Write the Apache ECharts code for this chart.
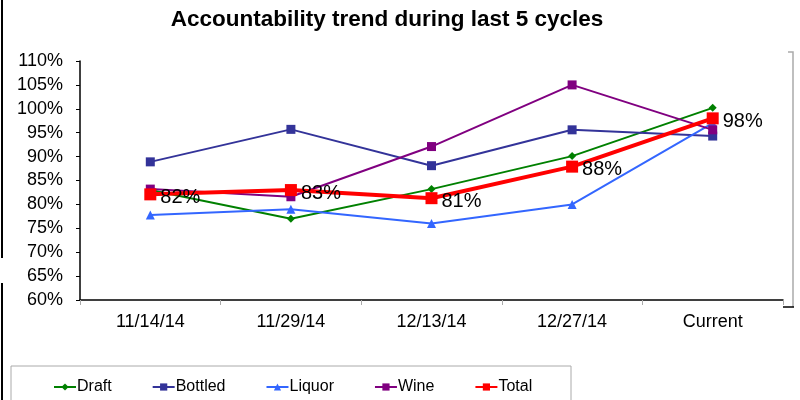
<!DOCTYPE html>
<html><head><meta charset="utf-8">
<script src="https://cdn.jsdelivr.net/npm/echarts@6/dist/echarts.min.js"></script>
<style>html,body{margin:0;padding:0;background:#fff}#c{width:800px;height:400px}</style>
</head><body><div id="c"></div>
<script>
const categories = ['11/14/14', '11/29/14', '12/13/14', '12/27/14', 'Current'];
const draft   = [83.0, 77.0, 83.2, 90.1, 100.2];
const bottled = [88.9, 95.7, 88.1, 95.6, 94.3];
const liquor  = [77.8, 79.0, 76.0, 80.0, 97.0];
const wine    = [83.2, 81.6, 92.1, 105.0, 95.6];
const total   = [82.1, 83.0, 81.3, 87.9, 98.0];
const totalLabels = ['82%', '83%', '81%', '88%', '98%'];
const yTicks = { min: 60, max: 110, interval: 5 };

const FONT = 'Liberation Sans, Arial, sans-serif';
const chart = echarts.init(document.getElementById('c'), null, { renderer: 'canvas' });

function s(name, data, color, symbol, size, width, z) {
  return {
    name, type: 'line', data, color, symbol, symbolSize: size, z,
    lineStyle: { color, width }, itemStyle: { color },
    emphasis: { disabled: true }, animation: false
  };
}

const totalSeries = s('Total', total, '#FF0000', 'rect', 12, 4, 10);
totalSeries.label = {
  show: true, position: 'right', distance: 4, offset: [0, 3],
  color: '#000', fontSize: 20, fontFamily: FONT,
  formatter: p => totalLabels[p.dataIndex]
};

chart.setOption({
  animation: false,
  title: {
    text: 'Accountability trend during last 5 cycles',
    left: 382, top: 3, textAlign: 'center',
    textStyle: { fontSize: 22.5, fontWeight: 'bold', color: '#000', fontFamily: FONT }
  },
  grid: { left: 80, right: 17, top: 61, bottom: 100, containLabel: false },
  legend: {
    data: ['Draft', 'Bottled', 'Liquor', 'Wine', 'Total'],
    left: 48, top: 374, itemGap: 40, itemWidth: 22, itemHeight: 9,
    textStyle: { fontSize: 16, color: '#000', fontFamily: FONT, padding: [0, 0, 0, -4] }
  },
  xAxis: {
    type: 'category', data: categories, boundaryGap: true,
    axisLine: { lineStyle: { color: '#000', width: 1.5 } },
    axisTick: { show: true, length: 5, lineStyle: { color: '#aaa' } },
    axisLabel: { fontSize: 18, color: '#000', fontFamily: FONT, margin: 13 }
  },
  yAxis: {
    type: 'value', min: yTicks.min, max: yTicks.max, interval: yTicks.interval,
    axisLine: { show: true, lineStyle: { color: '#000', width: 1.5 } },
    axisTick: { show: true, length: 4, lineStyle: { color: '#000' } },
    splitLine: { show: false },
    axisLabel: { fontSize: 18, color: '#000', fontFamily: FONT, margin: 17, formatter: '{value}%' }
  },
  graphic: [
    { type: 'rect', shape: { x: 11, y: 366, width: 560, height: 40 }, style: { fill: 'none', stroke: '#aaa', lineWidth: 1 }, silent: true },
    { type: 'line', shape: { x1: 2, y1: 0, x2: 2, y2: 258 }, style: { stroke: '#000', lineWidth: 2 }, silent: true },
    { type: 'line', shape: { x1: 2, y1: 283, x2: 2, y2: 400 }, style: { stroke: '#000', lineWidth: 2 }, silent: true },
    { type: 'polyline', shape: { points: [[788, 52], [793, 52], [793, 307]] }, style: { stroke: '#aaa', fill: 'none', lineWidth: 1.5 }, silent: true },
    { type: 'line', shape: { x1: 783, y1: 307, x2: 794, y2: 307 }, style: { stroke: '#000', lineWidth: 1.5 }, silent: true }
  ],
  series: [
    s('Draft', draft, '#008000', 'diamond', 8, 2, 2),
    s('Bottled', bottled, '#333399', 'rect', 9, 2, 3),
    s('Liquor', liquor, '#3366FF', 'triangle', 9, 2, 4),
    s('Wine', wine, '#800080', 'rect', 9, 2, 5),
    totalSeries
  ]
});
</script></body></html>
